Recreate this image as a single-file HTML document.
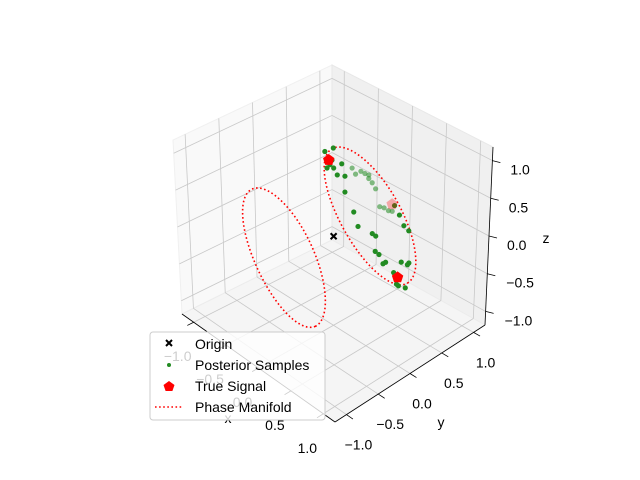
<!DOCTYPE html>
<html><head><meta charset="utf-8"><style>
body{margin:0;background:#fff;}
svg{display:block;font-family:"Liberation Sans","DejaVu Sans",sans-serif;}
</style></head><body>
<svg id="chart" width="640" height="480" viewBox="0 0 640 480" xmlns="http://www.w3.org/2000/svg">
<rect width="640" height="480" fill="#fff"/>
<g id="panes"></g><g id="grid"></g><g id="axes"></g><g id="series"></g>
<g id="legend">
  <rect x="150" y="332" width="175" height="88" rx="3" fill="#fff" fill-opacity="0.8" stroke="#ccc"/>
  <g>
    <path d="M166,340 l6,6 M172,340 l-6,6" stroke="#000" stroke-width="2"/>
    <text x="195" y="349" font-size="14">Origin</text></g>
  <g>
    <circle cx="169" cy="365" r="2" fill="#228b22"/>
    <text x="195" y="370" font-size="14">Posterior Samples</text></g>
  <g>
    <polygon points="169,381 174.5,385 172.4,391 165.6,391 163.5,385" fill="#f00"/>
    <text x="195" y="391" font-size="14">True Signal</text></g>
  <g>
    <line x1="155" y1="407" x2="182" y2="407" stroke="#f00" stroke-width="1.6" stroke-dasharray="1.6 2.5"/>
    <text x="195" y="412" font-size="14">Phase Manifold</text></g>
</g>
</svg>
<script>
// ---- data ----
const tickVals = [-1.0, -0.5, 0.0, 0.5, 1.0];
const tickLabels = ["\u22121.0", "\u22120.5", "0.0", "0.5", "1.0"];
const axisLim = [-1.18, 1.18];
// manifold ellipses: center, u, v (3D)
const manifoldA = {c:[0, 0.57, 0], u:[0.29, 0.29, -0.89], v:[0, 0.405, 0]};
const manifoldB = {c:[-0.07, -0.68, 0], u:[0.23, 0.23, -0.89], v:[0.045, 0.37, 0]};
// posterior samples in manifold A coordinates (s along u, t along v)
const sampleS = [-1.01,-1.00,-0.91,-0.87,-0.81,-0.83,-0.77,-0.77,-0.67,-0.61,-0.43,-0.15,0.04,0.21,0.26,0.43,0.49,0.62,0.62,0.79,0.94,0.97,1.04,0.72,0.78,0.79,0.32,0.41,0.17,0.03];
const sampleT = [-0.27,0.03,-0.28,-0.21,-0.48,-0.34,-0.29,0.01,-0.30,-0.10,-0.36,-0.43,-0.54,-0.24,-0.18,-0.44,-0.38,-0.31,-0.41,-0.24,-0.34,-0.31,-0.14,0.15,0.36,0.29,0.81,0.87,0.85,0.86];
const fadedS = [-0.66,-0.57,-0.57,-0.52,-0.48,-0.37,-0.28,-0.05,-0.01,0.05,0.08,-0.44];
const fadedT = [0.24,0.24,0.44,0.52,0.61,0.58,0.58,0.41,0.52,0.60,0.70,0.55];
const trueS = [-0.89, 0.87, 0.0];
const trueT = [-0.30, -0.20, 0.81];
const trueFaded = [false, false, true];

// ---- projection (trilinear interpolation of box corners) ----
const C = {
  "000":[182,314],"100":[335,422],"110":[485,325],"010":[332,240],
  "001":[173,140],"101":[337,237],"111":[493,147],"011":[332,65]};
function norm(v){return (v-axisLim[0])/(axisLim[1]-axisLim[0]);}
function P(x,y,z){
  const a=norm(x),b=norm(y),c=norm(z);let X=0,Y=0;
  for(const i of [0,1])for(const j of [0,1])for(const k of [0,1]){
    const w=(i?a:1-a)*(j?b:1-b)*(k?c:1-c);const p=C[""+i+j+k];X+=w*p[0];Y+=w*p[1];}
  return [X,Y];}
function onManifold(m,s,t){return [0,1,2].map(i=>m.c[i]+s*m.u[i]+t*m.v[i]);}
const NS="http://www.w3.org/2000/svg";
function mk(tag,attrs,parent){const e=document.createElementNS(NS,tag);for(const k in attrs)e.setAttribute(k,attrs[k]);parent.appendChild(e);return e;}
const L=axisLim[0],H=axisLim[1];
function poly(pts){return pts.map(p=>p.join(",")).join(" ");}

// panes
const panes=document.getElementById("panes");
let e;
e=mk("polygon",{points:poly([P(L,L,L),P(L,H,L),P(L,H,H),P(L,L,H)]),fill:"#f9f9f9",stroke:"#f0f0f0"},panes);


e=mk("polygon",{points:poly([P(L,H,L),P(H,H,L),P(H,H,H),P(L,H,H)]),fill:"#f0f0f0",stroke:"#e8e8e8"},panes);


e=mk("polygon",{points:poly([P(L,L,L),P(H,L,L),P(H,H,L),P(L,H,L)]),fill:"#f5f5f5",stroke:"#ececec"},panes);



// grid
const grid=document.getElementById("grid");
function gl(p1,p2,name){const l=mk("line",{x1:p1[0],y1:p1[1],x2:p2[0],y2:p2[1],stroke:"#c8c8c8","stroke-width":0.8},grid);

}
tickVals.forEach(v=>{
  gl(P(L,v,L),P(L,v,H),'grid-line-y');
  gl(P(L,L,v),P(L,H,v),'grid-line-z');
  gl(P(v,H,L),P(v,H,H),'grid-line-x');
  gl(P(L,H,v),P(H,H,v),'grid-line-z');
  gl(P(v,L,L),P(v,H,L),'grid-line-x');
  gl(P(L,v,L),P(H,v,L),'grid-line-y');
});

// axes
const axes=document.getElementById("axes");
function al(p1,p2,name){const l=mk("line",{x1:p1[0],y1:p1[1],x2:p2[0],y2:p2[1],stroke:"#000","stroke-width":0.8},axes);

}
function tx(x,y,s,name,anchor){const t=mk("text",{x:x,y:y,"font-size":14,"text-anchor":anchor||"middle"},axes);t.textContent=s;

}
al(P(L,L,L),P(H,L,L),'x-axis-line');
al(P(H,L,L),P(H,H,L),'y-axis-line');
al(P(H,H,L),P(H,H,H),'z-axis-line');
tickVals.forEach((v,i)=>{
  let p=P(v,L,L),q=P(v,L-0.1,L);al(p,q,'x-tick');
  tx(p[0]-16,p[1]+39,tickLabels[i],'x-tick-label');
  p=P(H,v,L);q=P(H+0.1,v,L);al(p,q,'y-tick');
  tx(p[0]+12,p[1]+35,tickLabels[i],'y-tick-label');
  p=P(H,H,v);al(p,[p[0]+8,p[1]+2],'z-tick');
  tx(p[0]+(v<0?19:18),p[1]+14,tickLabels[i],'z-tick-label','start');
});
tx(228,423,"x",'x-axis-title');
tx(441,427,"y",'y-axis-title');
tx(546,243,"z",'z-axis-title');

// series
const series=document.getElementById("series");
[[manifoldA,'phase-manifold-a'],[manifoldB,'phase-manifold-b']].forEach(([m,name])=>{
  const pts=[];for(let k=0;k<=120;k++){const th=k/120*2*Math.PI;pts.push(P(...onManifold(m,Math.cos(th),Math.sin(th))));}
  const pl=mk("polyline",{points:poly(pts),fill:"none",stroke:"#f00","stroke-width":1.6,"stroke-dasharray":"1.6 2.5"},series);
  
  
});
fadedS.forEach((s,i)=>{const p=P(...onManifold(manifoldA,s,fadedT[i]));
  const c=mk("circle",{cx:p[0],cy:p[1],r:2.6,fill:"#228b22","fill-opacity":0.55},series);
  
  });
sampleS.forEach((s,i)=>{const p=P(...onManifold(manifoldA,s,sampleT[i]));
  const c=mk("circle",{cx:p[0],cy:p[1],r:2.6,fill:"#228b22"},series);
  
  });
trueS.forEach((s,i)=>{const p=P(...onManifold(manifoldA,s,trueT[i]));
  const r=6,pts=[];for(let k=0;k<5;k++){const a=-Math.PI/2+k*2*Math.PI/5;pts.push([p[0]+r*Math.cos(a),p[1]+r*Math.sin(a)]);}
  const g=mk("polygon",{points:poly(pts),fill:"#f00","fill-opacity":trueFaded[i]?0.3:1},series);
  
  });
const o=P(0,0,0);
const om=mk("path",{d:`M${o[0]-3},${o[1]-3} l6,6 M${o[0]+3},${o[1]-3} l-6,6`,stroke:"#000","stroke-width":2},series);


</script>
</body></html>
